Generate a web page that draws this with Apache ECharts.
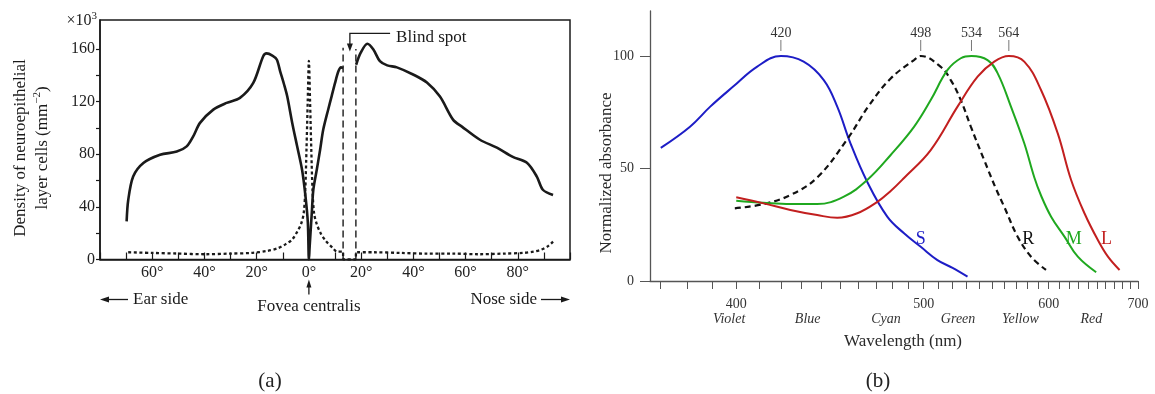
<!DOCTYPE html>
<html>
<head>
<meta charset="utf-8">
<title>Retinal receptor density and photopigment absorbance</title>
<script src="https://cdn.jsdelivr.net/npm/echarts@6.0.0/dist/echarts.min.js"></script>
<style>
  html, body { margin: 0; padding: 0; background: #fff; }
  #chart { width: 1155px; height: 394px; }
</style>
</head>
<body>
<div id="chart"></div>
<script>
// ---------- (a) receptor density along the horizontal meridian ----------
// angle from the fovea in degrees (negative = ear side), density in 10^3 cells per mm^2
const rodAngle = [-69.8, -69.2, -67.3, -63.4, -57, -50.6, -46.8, -44.3, -41.7, -36.6, -31.5, -26.4,
  -21.3, -17.5, -16.2, -14, -12.3, -11, -9.5, -8.3, -6.4, -4.5, -2.6, -1.3, -0.4, 0, 0.3, 1.1, 1.7,
  3, 4.3, 5.5, 7.4, 8.7, 10, 11.3, 12.3, 13.1,
  15.5,
  18.1, 19.8, 22.4, 24.7, 27.2, 30, 33.7, 39.9, 45.2, 50.2, 55.2, 58.6, 65.5, 72, 78.1, 83.5,
  87.3, 89.6, 93.5];
const rodDensity = [29, 45, 63, 73.3, 79.6, 82, 86, 93.6, 103.8, 113.9, 119, 122.8,
  134.2, 154.5, 156.6, 155, 152, 143, 133, 124, 104, 86, 68, 48, 28, 0, 10, 35, 53,
  68, 83.4, 98.7, 114, 124, 134, 143, 146, 145.5,
  null,
  148, 157, 164, 159.6, 150.7, 147.5, 146, 140.6, 134.5, 123.8, 106.3, 101, 91, 85, 78, 73.5,
  63, 53, 49];
const coneAngle = [-69.2, -60, -50, -40, -30, -22, -16, -12, -9, -6.5, -4.5, -3, -2, -1.4, -0.9,
  -0.45, 0, 0.45, 0.9, 1.4, 2, 3, 4.5, 6.5, 9, 10.8, 13.1, 13.1, 18.0, 18.0, 25, 35, 45, 55, 65,
  75, 82, 86, 89, 91.5, 93.5];
const coneDensity = [5.5, 5, 4.5, 4, 4.5, 5, 6.5, 8.5, 11.5, 15, 21, 27, 35, 52, 85,
  120, 151, 120, 85, 52, 35, 27, 20, 14, 9, 6, 6, 0, 0, 5.5, 5.5, 5, 4.5, 4.5, 4,
  4.5, 5, 6, 7.5, 10, 13.6];
const blindSpotEdges = [13.1, 18.0];
const blindSpotTop = [161, 160];
const angleLabels = [-60, -40, -20, 0, 20, 40, 60, 80];
const densityLabels = [0, 40, 80, 120, 160];
const densityTicks = [0, 20, 40, 60, 80, 100, 120, 140, 160];
const angleMin = -80, angleMax = 100, densityMax = 182;

// blind spot callout anchor (angle, density)
const blindSpotArrowX = 15.7, blindSpotArrowTip = 158;
const blindSpotBracketLevel = 171.8, blindSpotBracketEnd = 31.1;
const blindSpotLabelX = 33.4, blindSpotLabelLevel = 168.8;

// ---------- (b) normalized absorbance of the four photopigments ----------
// wavelength in nm; the axis is linear in wavenumber (1/wavelength)
const sWavelength = [370.2, 381.2, 389.2, 398.7, 409, 420, 431, 441.2, 448.3, 455.5, 465, 476.8,
  487.2, 498, 509.3, 520, 531];
const sAbsorbance = [59.2, 68.6, 77.5, 86.4, 95.2, 100, 97.5, 89.3, 77.5, 61.2, 44, 28.6,
  21.2, 15.2, 9.3, 5.8, 1.9];
const rWavelength = [399.4, 412, 424.5, 437.8, 453.7, 466, 478.9, 493.6, 498, 511.6, 518.7, 526,
  533.5, 543.8, 553.3, 560.1, 571.6, 583.5, 597.4];
const rAbsorbance = [32.3, 34.2, 38.2, 46, 63, 78, 90, 98.2, 100, 95.2, 89.3, 80.4,
  68.6, 53.8, 41, 33, 19.7, 10.8, 4.9];
const mWavelength = [400, 412, 424.5, 437.8, 451.9, 465, 478.9, 493.6, 504.7, 516.4, 526, 534,
  546.5, 554.7, 565.8, 577.4, 586.5, 592.7, 602.3, 615.5, 629.3, 649.3];
const mAbsorbance = [35.7, 34.8, 34.2, 34.2, 37.5, 44.9, 56, 68.5, 80.4, 93.8, 99, 100,
  98.2, 92.3, 77.5, 61.2, 46, 38, 28.6, 19.7, 10.8, 3.9];
const lWavelength = [400, 412, 424.5, 437.8, 448.3, 459.3, 470.9, 478.9, 487.2, 504.7, 523.6,
  538.7, 551.9, 564, 577.4, 592.7, 608.8, 622.3, 636.4, 651.2, 662.8, 676.7];
const lAbsorbance = [37.2, 34.5, 31.6, 29.3, 28.1, 30.1, 35.2, 40, 45.8, 58.2, 77.5,
  90.8, 97.5, 100, 97.5, 84.9, 65.6, 44.9, 30.1, 18.2, 10.8, 4.9];
const peakWavelengths = [420, 498, 534, 564];
const wavelengthLabels = [400, 500, 600, 700];
const wavelengthTicks = [370, 380, 390, 400, 410, 420, 430, 440, 450, 460, 470, 480, 490, 500,
  510, 520, 530, 540, 550, 560, 570, 580, 590, 600, 610, 620, 630, 640, 650, 660, 670, 680, 690, 700];
const hueNames = ['Violet', 'Blue', 'Cyan', 'Green', 'Yellow', 'Red'];
const hueWavelengths = [397, 433, 476, 524, 574, 644];
const absorbanceLabels = [0, 50, 100];
const curveTags = ['S', 'R', 'M', 'L'];
const curveTagWavelength = [498, 581, 625, 661];
const curveTagLevel = 18.5;
const wavelengthMin = 366.3, wavelengthMax = 700;

// ---------- styles ----------
const SERIF = '"Liberation Serif", "DejaVu Serif", serif';
const INK = '#1a1a1a';
const AXIS_B = '#555';
const TEXT_B = '#2a2a2a';
const BLUE = '#1d1dc6', GREEN = '#1fa81f', RED = '#c21f1f', BLACK = '#111';
const curveTagColors = [BLUE, BLACK, GREEN, RED];

const toU = wl => 1e6 / wl;
const pairs = (xs, ys, fx) => xs.map((x, i) => [fx ? fx(x) : x, ys[i] == null ? '-' : ys[i]]);

const chart = echarts.init(document.getElementById('chart'), null, { renderer: 'canvas' });

const textStyle = (size, extra) => Object.assign({ fontFamily: SERIF, fontSize: size, fill: INK }, extra || {});

function arrowAnnotations(params, api) {
  const bend = api.coord([blindSpotArrowX, blindSpotBracketLevel]);
  const end = api.coord([blindSpotBracketEnd, blindSpotBracketLevel]);
  const tip = api.coord([blindSpotArrowX, blindSpotArrowTip]);
  const label = api.coord([blindSpotLabelX, blindSpotLabelLevel]);
  const fovea = api.coord([0, 0]);
  const earEnd = api.coord([angleMin, 0]);
  const noseEnd = api.coord([angleMax, 0]);
  const stroke = { stroke: INK, lineWidth: 1.3, fill: null };
  const arrowY = fovea[1] + 40;
  return {
    type: 'group',
    children: [
      { type: 'polyline', shape: { points: [end, bend, [tip[0], tip[1] - 6]] }, style: stroke },
      { type: 'polygon', shape: { points: [[tip[0] - 3, tip[1] - 8], [tip[0] + 3, tip[1] - 8], [tip[0], tip[1]]] }, style: { fill: INK } },
      { type: 'text', x: label[0], y: label[1], style: textStyle(17, { text: 'Blind spot', align: 'left', verticalAlign: 'middle' }) },

      { type: 'line', shape: { x1: fovea[0], y1: fovea[1] + 35, x2: fovea[0], y2: fovea[1] + 26 }, style: stroke },
      { type: 'polygon', shape: { points: [[fovea[0], fovea[1] + 20], [fovea[0] - 2.5, fovea[1] + 28], [fovea[0] + 2.5, fovea[1] + 28]] }, style: { fill: INK } },
      { type: 'text', x: fovea[0], y: fovea[1] + 47, style: textStyle(17, { text: 'Fovea centralis', align: 'center', verticalAlign: 'middle' }) },

      { type: 'line', shape: { x1: earEnd[0] + 28, y1: arrowY, x2: earEnd[0] + 6, y2: arrowY }, style: stroke },
      { type: 'polygon', shape: { points: [[earEnd[0], arrowY], [earEnd[0] + 9, arrowY - 3], [earEnd[0] + 9, arrowY + 3]] }, style: { fill: INK } },
      { type: 'text', x: earEnd[0] + 33, y: arrowY, style: textStyle(17, { text: 'Ear side', align: 'left', verticalAlign: 'middle' }) },

      { type: 'line', shape: { x1: noseEnd[0] - 29, y1: arrowY, x2: noseEnd[0] - 6, y2: arrowY }, style: stroke },
      { type: 'polygon', shape: { points: [[noseEnd[0], arrowY], [noseEnd[0] - 9, arrowY - 3], [noseEnd[0] - 9, arrowY + 3]] }, style: { fill: INK } },
      { type: 'text', x: noseEnd[0] - 33, y: arrowY, style: textStyle(17, { text: 'Nose side', align: 'right', verticalAlign: 'middle' }) }
    ]
  };
}

function peakMarker(params, api) {
  const p = api.coord([api.value(0), api.value(1)]);
  return {
    type: 'group',
    children: [
      { type: 'line', shape: { x1: p[0], y1: p[1] - 5, x2: p[0], y2: p[1] - 16 }, style: { stroke: '#777', lineWidth: 1 } },
      { type: 'text', x: p[0], y: p[1] - 23, style: { text: String(api.value(2)), fontFamily: SERIF, fontSize: 14, fill: '#333', align: 'center', verticalAlign: 'middle' } }
    ]
  };
}

function curveTag(params, api) {
  const p = api.coord([api.value(0), api.value(1)]);
  const i = api.value(2);
  return { type: 'text', x: p[0], y: p[1], style: { text: curveTags[i], fontFamily: SERIF, fontSize: 18, fill: curveTagColors[i], align: 'center', verticalAlign: 'middle' } };
}

const hueLookup = v => {
  let best = 0;
  hueWavelengths.forEach((w, i) => { if (Math.abs(toU(w) - v) < Math.abs(toU(hueWavelengths[best]) - v)) best = i; });
  return hueNames[best];
};

const spectrumLine = (name, wl, abs, color, dash) => ({
  name, type: 'line', xAxisIndex: 1, yAxisIndex: 1, data: pairs(wl, abs, toU),
  smooth: 0.4, symbol: 'none', silent: true,
  lineStyle: { color, width: dash ? 2.2 : 2, type: dash || 'solid' }
});

const option = {
  animation: false,
  backgroundColor: '#fff',
  grid: [
    { left: 100, top: 20, width: 470, height: 239.5, show: true, borderColor: INK, borderWidth: 1.5,
      backgroundColor: 'transparent', containLabel: false, outerBoundsMode: 'none' },
    { left: 650, top: 11, width: 488, height: 270, containLabel: false, outerBoundsMode: 'none' }
  ],
  xAxis: [
    {
      gridIndex: 0, type: 'value', position: 'bottom', min: angleMin, max: angleMax, interval: 10,
      axisLine: { onZero: false, lineStyle: { color: INK, width: 1.5 } },
      axisTick: { inside: true, length: 7, lineStyle: { color: INK, width: 1.2 } },
      axisLabel: { customValues: angleLabels, formatter: v => Math.abs(v) + '°', margin: 5, fontFamily: SERIF, fontSize: 16, color: '#222' },
      splitLine: { show: false }
    },
    {
      gridIndex: 1, type: 'value', position: 'bottom', inverse: true, min: toU(wavelengthMax), max: toU(wavelengthMin),
      axisLine: { onZero: false, lineStyle: { color: AXIS_B, width: 1.3 } },
      axisTick: { customValues: wavelengthTicks.map(toU), length: 8, lineStyle: { color: AXIS_B, width: 1 } },
      axisLabel: { customValues: wavelengthLabels.map(toU), formatter: v => Math.round(1e6 / v), margin: 16, fontFamily: SERIF, fontSize: 14, color: '#333' },
      splitLine: { show: false }
    },
    {
      gridIndex: 1, type: 'value', position: 'bottom', inverse: true, min: toU(wavelengthMax), max: toU(wavelengthMin),
      axisLine: { show: false, onZero: false }, axisTick: { show: false },
      axisLabel: { customValues: hueWavelengths.map(toU), formatter: hueLookup, margin: 31, fontFamily: SERIF, fontSize: 14, fontStyle: 'italic', color: '#333' },
      splitLine: { show: false }
    }
  ],
  yAxis: [
    {
      gridIndex: 0, type: 'value', position: 'left', min: 0, max: densityMax,
      axisLine: { show: true, onZero: false, lineStyle: { color: INK, width: 1.5 } },
      axisTick: { show: true, customValues: densityTicks, length: 4, lineStyle: { color: INK, width: 1.2 } },
      axisLabel: { customValues: densityLabels, margin: 5, fontFamily: SERIF, fontSize: 16, color: '#222' },
      splitLine: { show: false }
    },
    {
      gridIndex: 1, type: 'value', position: 'left', min: 0, max: 120,
      axisLine: { show: true, onZero: false, lineStyle: { color: AXIS_B, width: 1.3 } },
      axisTick: { show: true, customValues: absorbanceLabels, length: 10, lineStyle: { color: AXIS_B, width: 1 } },
      axisLabel: { customValues: absorbanceLabels, margin: 16, fontFamily: SERIF, fontSize: 14, color: '#333' },
      splitLine: { show: false }
    }
  ],
  series: [
    {
      name: 'Cones', type: 'line', xAxisIndex: 0, yAxisIndex: 0, data: pairs(coneAngle, coneDensity),
      smooth: 0.3, symbol: 'none', lineStyle: { color: INK, width: 2.3, type: [3, 2.6] }, silent: true
    },
    ...blindSpotEdges.map((x, i) => ({
      name: 'Blind spot ' + (i + 1), type: 'line', xAxisIndex: 0, yAxisIndex: 0,
      data: [[x, 0], [x, blindSpotTop[i]]], symbol: 'none',
      lineStyle: { color: INK, width: 1.4, type: [7, 4] }, silent: true
    })),
    {
      name: 'Rods', type: 'line', xAxisIndex: 0, yAxisIndex: 0, data: pairs(rodAngle, rodDensity),
      smooth: 0.3, symbol: 'none', connectNulls: false, lineStyle: { color: INK, width: 2.6 }, silent: true
    },
    { name: 'Callouts', type: 'custom', xAxisIndex: 0, yAxisIndex: 0, clip: false, silent: true, data: [[0, 0]], renderItem: arrowAnnotations },

    spectrumLine('S', sWavelength, sAbsorbance, BLUE),
    spectrumLine('R', rWavelength, rAbsorbance, BLACK, [6, 4]),
    spectrumLine('M', mWavelength, mAbsorbance, GREEN),
    spectrumLine('L', lWavelength, lAbsorbance, RED),
    { name: 'Peaks', type: 'custom', xAxisIndex: 1, yAxisIndex: 1, clip: false, silent: true,
      data: peakWavelengths.map(w => [toU(w), 100, w]), renderItem: peakMarker },
    { name: 'Tags', type: 'custom', xAxisIndex: 1, yAxisIndex: 1, clip: false, silent: true,
      data: curveTags.map((t, i) => [toU(curveTagWavelength[i]), curveTagLevel, i]), renderItem: curveTag }
  ],
  graphic: [
    { type: 'text', x: 97, y: 21, silent: true,
      style: { text: '×10{s|3}', fontFamily: SERIF, fontSize: 16, fill: INK, lineHeight: 20, align: 'right', verticalAlign: 'middle',
        rich: { s: { fontFamily: SERIF, fontSize: 11, fill: INK, verticalAlign: 'top', lineHeight: 20 } } } },
    { type: 'text', x: 32, y: 148, rotation: Math.PI / 2, silent: true,
      style: { text: 'Density of neuroepithelial\nlayer cells (mm{s|−2})', fontFamily: SERIF, fontSize: 17, fill: INK, lineHeight: 22,
        align: 'center', verticalAlign: 'middle',
        rich: { s: { fontFamily: SERIF, fontSize: 11, fill: INK, verticalAlign: 'top', lineHeight: 22 } } } },
    { type: 'text', x: 607, y: 173, rotation: Math.PI / 2, silent: true,
      style: { text: 'Normalized absorbance', fontFamily: SERIF, fontSize: 17, fill: TEXT_B, align: 'center', verticalAlign: 'middle' } },
    { type: 'text', x: 903, y: 342, silent: true,
      style: { text: 'Wavelength (nm)', fontFamily: SERIF, fontSize: 17, fill: TEXT_B, align: 'center', verticalAlign: 'middle' } },
    { type: 'text', x: 270, y: 381, silent: true,
      style: { text: '(a)', fontFamily: SERIF, fontSize: 21, fill: '#222', align: 'center', verticalAlign: 'middle' } },
    { type: 'text', x: 878, y: 381, silent: true,
      style: { text: '(b)', fontFamily: SERIF, fontSize: 21, fill: '#222', align: 'center', verticalAlign: 'middle' } }
  ]
};

chart.setOption(option);
</script>
</body>
</html>
